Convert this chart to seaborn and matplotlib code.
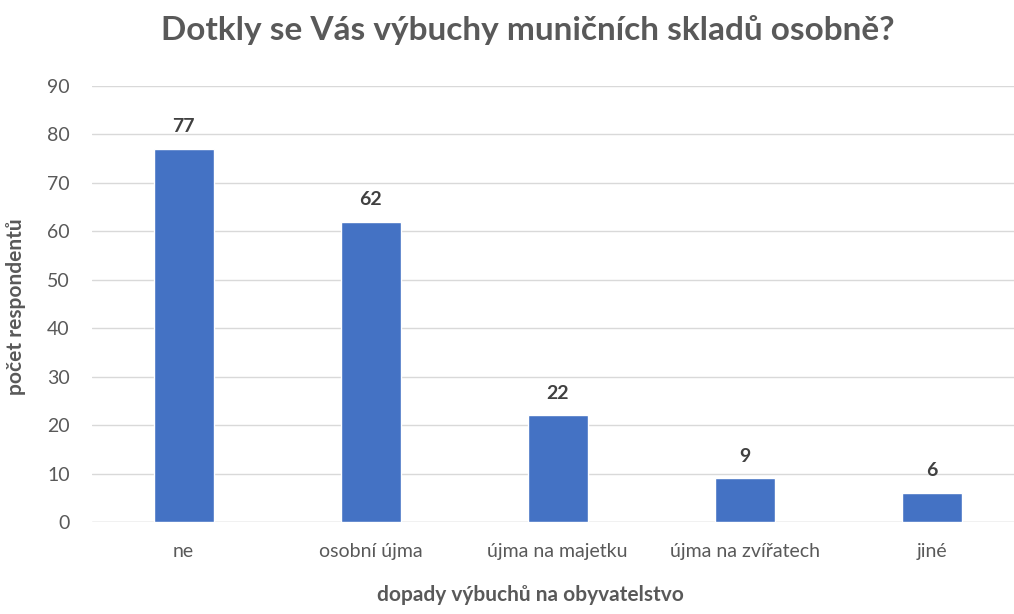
import pandas as pd
import seaborn as sns
import matplotlib.pyplot as plt

categories = ['ne', 'osobní újma', 'újma na majetku', 'újma na zvířatech', 'jiné']
counts = [77, 62, 22, 9, 6]

title = 'Dotkly se Vás výbuchy muničních skladů osobně?'
xlabel = 'dopady výbuchů na obyvatelstvo'
ylabel = 'počet respondentů'

df = pd.DataFrame({'kategorie': categories, 'pocet': counts})

sns.set_theme(style='white')
plt.rcParams['font.family'] = ['Lato', 'DejaVu Sans']

grey = '#595959'
fig = plt.figure(figsize=(10.14, 6.14), dpi=100)
ax = fig.add_axes([92 / 1014, 1 - 522 / 614, 922 / 1014, 436 / 614])

sns.barplot(data=df, x='kategorie', y='pocet', color='#4472C4',
            width=0.32, saturation=1, ax=ax, zorder=3)

ax.set_ylim(0, 90)
ax.set_yticks(range(0, 91, 10))
ax.set_xlim(-0.49, 4.44)
ax.yaxis.grid(True, color='#D9D9D9', linewidth=1, zorder=0)
for s in ax.spines.values():
    s.set_visible(False)
ax.axhline(0, color='#D9D9D9', linewidth=1, zorder=1)

ax.tick_params(axis='both', length=0, labelsize=14, labelcolor=grey)
ax.tick_params(axis='y', pad=16)
ax.tick_params(axis='x', pad=15)

for c in ax.containers:
    ax.bar_label(c, padding=10, fontsize=14, fontweight='bold', color='#404040')

ax.set_xlabel(xlabel, fontsize=15, fontweight='bold', color=grey)
ax.set_ylabel(ylabel, fontsize=15, fontweight='bold', color=grey)
ax.xaxis.set_label_coords(0.475, -0.145)
ax.yaxis.set_label_coords(-0.072, 0.493)

fig.text(0.52, 0.951, title, ha='center', va='center', fontsize=24,
         fontweight='bold', color=grey)

fig.savefig('out.png', dpi=100)
